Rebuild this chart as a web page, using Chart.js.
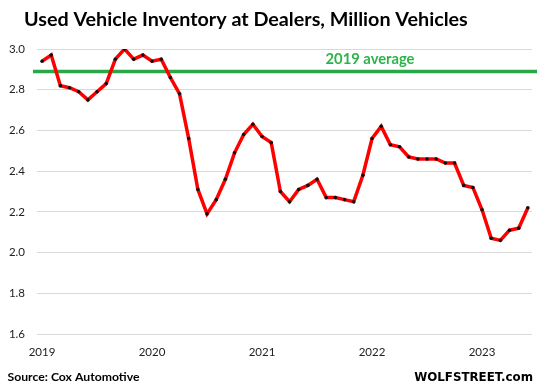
<!DOCTYPE html>
<html>
<head>
<meta charset="utf-8">
<script src="https://cdn.jsdelivr.net/npm/chart.js@4/dist/chart.umd.min.js"></script>
<style>
  html, body { margin: 0; padding: 0; background: #fff; }
  #wrap { width: 537px; height: 391px; }
</style>
</head>
<body>
<div id="wrap"><canvas id="inventoryChart" width="537" height="391"></canvas></div>
<script>
// Used vehicle inventory at dealers, million vehicles, monthly Jan 2019 - Jun 2023
const years = ['2019', '2020', '2021', '2022', '2023'];
const inv2019 = [2.94, 2.97, 2.82, 2.81, 2.79, 2.75, 2.79, 2.83, 2.95, 3.00, 2.95, 2.97];
const inv2020 = [2.94, 2.95, 2.86, 2.78, 2.56, 2.31, 2.19, 2.26, 2.36, 2.49, 2.58, 2.63];
const inv2021 = [2.57, 2.54, 2.30, 2.25, 2.31, 2.33, 2.36, 2.27, 2.27, 2.26, 2.25, 2.38];
const inv2022 = [2.56, 2.62, 2.53, 2.52, 2.47, 2.46, 2.46, 2.46, 2.44, 2.44, 2.33, 2.32];
const inv2023 = [2.21, 2.07, 2.06, 2.11, 2.12, 2.22];
const avg2019 = 2.89;
const yTicks = [1.6, 1.8, 2.0, 2.2, 2.4, 2.6, 2.8, 3.0];

const inventory = [...inv2019, ...inv2020, ...inv2021, ...inv2022, ...inv2023];
const points = inventory.map((v, i) => ({ x: i, y: v }));

function fitFont(ctx, text, width, weight, family) {
    ctx.font = weight + ' 100px ' + family;
    return 100 * width / ctx.measureText(text).width;
}

const decorPlugin = {
    id: 'decor',
    beforeDatasetsDraw(chart) {
        const ctx = chart.ctx;
        const y = chart.scales.y.getPixelForValue(avg2019);
        ctx.save();
        ctx.strokeStyle = '#2aa748';
        ctx.lineWidth = 3.5;
        ctx.beginPath();
        ctx.moveTo(chart.chartArea.left - 4, y);
        ctx.lineTo(chart.width, y);
        ctx.stroke();
        ctx.fillStyle = '#2db34a';
        ctx.textAlign = 'center';
        ctx.textBaseline = 'alphabetic';
        let s = fitFont(ctx, '2019 average', 89, 'bold', 'Lato');
        ctx.font = 'bold ' + s + 'px Lato';
        ctx.fillText('2019 average', 370, 63.5);
        ctx.restore();
    },
    afterDraw(chart) {
        const ctx = chart.ctx;
        ctx.save();
        ctx.fillStyle = '#000';
        ctx.textBaseline = 'alphabetic';
        ctx.textAlign = 'left';
        const title = 'Used Vehicle Inventory at Dealers, Million Vehicles';
        let s = fitFont(ctx, title, 444, 'bold', 'Lato');
        ctx.font = 'bold ' + s + 'px Lato';
        ctx.fillText(title, 24, 25.5);
        s = fitFont(ctx, 'Source: Cox Automotive', 132, 'bold', 'Lato');
        ctx.font = 'bold ' + s + 'px Lato';
        ctx.fillText('Source: Cox Automotive', 7.5, 381);
        ctx.textAlign = 'right';
        s = fitFont(ctx, 'WOLFSTREET.com', 119, 'bold', '"DejaVu Sans"');
        ctx.font = 'bold ' + s + 'px "DejaVu Sans"';
        ctx.fillText('WOLFSTREET.com', 533, 381);
        ctx.restore();
    }
};

new Chart(document.getElementById('inventoryChart').getContext('2d'), {
    type: 'line',
    data: {
        datasets: [{
            label: 'Inventory',
            data: points,
            borderColor: '#ff0000',
            borderWidth: 3.5,
            tension: 0,
            pointRadius: 1.8,
            pointBackgroundColor: '#111',
            pointBorderWidth: 0,
            fill: false
        }]
    },
    options: {
        responsive: false,
        animation: false,
        layout: { padding: { top: 49, right: 5, bottom: 0, left: 0 } },
        plugins: { legend: { display: false }, tooltip: { enabled: false } },
        scales: {
            x: {
                type: 'linear',
                min: -0.55,
                max: 53.45,
                afterFit: s => { s.height = 57; },
                afterBuildTicks: s => { s.ticks = years.map((y, i) => ({ value: i * 12 })); },
                grid: { display: false, drawTicks: false },
                border: { display: false },
                ticks: {
                    padding: 11,
                    color: '#222',
                    font: { family: 'Lato', size: 11.5 },
                    maxRotation: 0,
                    callback: v => years[v / 12]
                }
            },
            y: {
                min: 1.6,
                max: 3.0,
                afterFit: s => { s.width = 37; },
                afterBuildTicks: s => { s.ticks = yTicks.map(v => ({ value: v })); },
                grid: { color: '#d9d9d9', lineWidth: 1, drawTicks: false },
                border: { display: false },
                ticks: {
                    padding: 12,
                    color: '#222',
                    font: { family: 'Lato', size: 11.5 },
                    callback: v => v.toFixed(1)
                }
            }
        }
    },
    plugins: [decorPlugin]
});
</script>
</body>
</html>
